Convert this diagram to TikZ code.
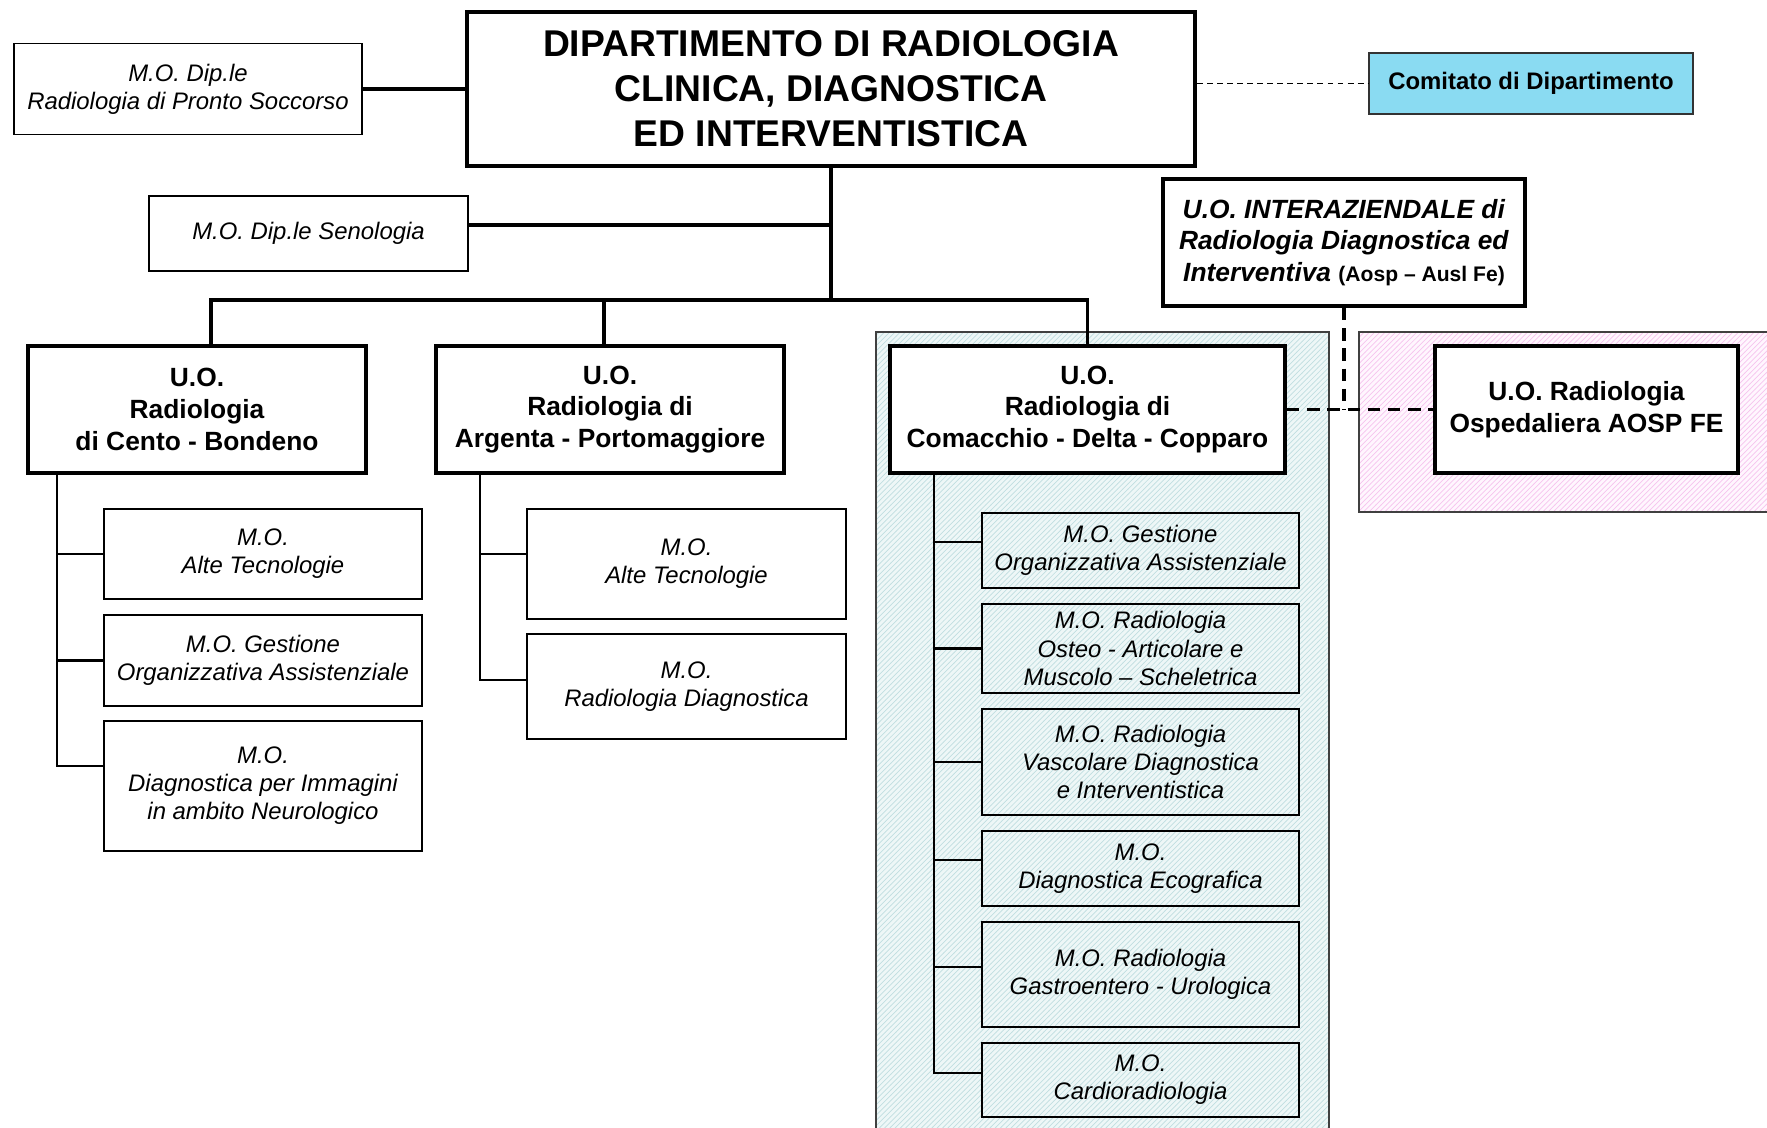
\documentclass[tikz,border=0pt]{standalone}
\usepackage{fontspec}
\setmainfont{Liberation Sans}
\usepackage{xcolor}
\usepackage{tikz}
\usetikzlibrary{patterns, backgrounds}

\definecolor{tealbg}{RGB}{238,247,247}
\definecolor{tealhatch}{RGB}{192,222,224}
\definecolor{pinkbg}{RGB}{255,246,254}
\definecolor{pinkhatch}{RGB}{246,196,238}
\definecolor{comitcol}{RGB}{138,219,242}

\newcommand{\mofont}{\fontsize{13.6}{16}\selectfont\itshape}
\newcommand{\uofont}{\fontsize{15}{18}\selectfont\bfseries}

\begin{document}
\begin{tikzpicture}[x=0.02cm, y=-0.02cm,
    deptbox/.style={draw, line width=2.7pt, fill=white, align=center, inner sep=0pt, font=\fontsize{21.2}{25.6}\selectfont\bfseries},
    uobox/.style={draw, line width=2.3pt, fill=white, align=center, inner sep=0pt, font=\uofont},
    mobox/.style={draw, line width=1.1pt, align=center, inner sep=0pt, font=\mofont},
    comitbox/.style={draw=black!80, line width=1pt, fill=comitcol, align=center, inner sep=0pt, font=\fontsize{13.6}{16}\selectfont\bfseries},
    trunkline/.style={line width=2pt},
    subline/.style={line width=1.2pt},
    dashline/.style={line width=2.2pt, dash pattern=on 7pt off 4.5pt},
    dotline/.style={line width=0.9pt, dash pattern=on 3.4pt off 2.3pt},
    region/.style={draw=black!75, line width=0.6pt}
]
\useasboundingbox (0,0) rectangle (1767,1127);

% top level
\node[deptbox, minimum width=14.56cm, minimum height=3.08cm] (dept) at (831,89) {DIPARTIMENTO DI RADIOLOGIA\\CLINICA, DIAGNOSTICA\\ED INTERVENTISTICA};
\node[mobox, minimum width=6.96cm, minimum height=1.82cm] (ps) at (188,89) {M.O. Dip.le\\Radiologia di Pronto Soccorso};
\node[mobox, minimum width=6.38cm, minimum height=1.5cm] (seno) at (308.5,233.5) {M.O. Dip.le Senologia};
\node[comitbox, minimum width=6.48cm, minimum height=1.22cm] (comit) at (1531,83.5) {Comitato di Dipartimento};
\node[uobox, minimum width=7.24cm, minimum height=2.54cm] (interaz) at (1344,242.5) {\textit{U.O. INTERAZIENDALE di}\\\textit{Radiologia Diagnostica ed}\\\textit{Interventiva} {\fontsize{12}{18}\selectfont(Aosp -- Ausl Fe)}};

% U.O.
\node[uobox, minimum width=6.76cm, minimum height=2.54cm] (cento) at (197,409.5) {U.O.\\Radiologia\\di Cento - Bondeno};
\node[uobox, minimum width=6.96cm, minimum height=2.54cm] (argenta) at (610,409.5) {U.O.\\Radiologia di\\Argenta - Portomaggiore};
\node[uobox, minimum width=7.9cm, minimum height=2.54cm] (comacchio) at (1087.5,409.5) {U.O.\\Radiologia di\\Comacchio - Delta - Copparo};
\node[uobox, minimum width=6.06cm, minimum height=2.54cm] (osped) at (1586.5,409.5) {U.O. Radiologia\\Ospedaliera AOSP FE};

% M.O. Cento
\node[mobox, minimum width=6.36cm, minimum height=1.8cm] (c1) at (263,554) {M.O.\\Alte Tecnologie};
\node[mobox, minimum width=6.36cm, minimum height=1.82cm] (c2) at (263,660.5) {M.O. Gestione\\Organizzativa Assistenziale};
\node[mobox, minimum width=6.36cm, minimum height=2.6cm] (c3) at (263,786) {M.O.\\Diagnostica per Immagini\\in ambito Neurologico};

% M.O. Argenta
\node[mobox, minimum width=6.38cm, minimum height=2.2cm] (a1) at (686.5,564) {M.O.\\Alte Tecnologie};
\node[mobox, minimum width=6.38cm, minimum height=2.1cm] (a2) at (686.5,686.5) {M.O.\\Radiologia Diagnostica};

% M.O. Comacchio
\node[mobox, minimum width=6.34cm, minimum height=1.5cm] (k1) at (1140.5,550.5) {M.O. Gestione\\Organizzativa Assistenziale};
\node[mobox, minimum width=6.34cm, minimum height=1.78cm] (k2) at (1140.5,648.5) {M.O. Radiologia\\Osteo - Articolare e\\Muscolo -- Scheletrica};
\node[mobox, minimum width=6.34cm, minimum height=2.12cm] (k3) at (1140.5,762) {M.O. Radiologia\\Vascolare Diagnostica\\e Interventistica};
\node[mobox, minimum width=6.34cm, minimum height=1.5cm] (k4) at (1140.5,868.5) {M.O.\\Diagnostica Ecografica};
\node[mobox, minimum width=6.34cm, minimum height=2.1cm] (k5) at (1140.5,974.5) {M.O. Radiologia\\Gastroentero - Urologica};
\node[mobox, minimum width=6.34cm, minimum height=1.48cm] (k6) at (1140.5,1080) {M.O.\\Cardioradiologia};

% tree
\coordinate (hub) at (831,300);
\coordinate (senojoin) at (831,225);
\draw[trunkline] (dept.south) -- (hub);
\draw[trunkline] ([xshift=0.28cm]cento.north) |- (hub) -| (comacchio.north);
\draw[trunkline] ([xshift=-0.12cm]argenta.north) |- (hub);
\draw[trunkline] (seno.east |- senojoin) -- (senojoin);
\draw[trunkline] (ps.east) -- (ps.east -| dept.west);
\draw[dotline] (dept.east |- comit) -- (comit.west);

\draw[subline] ([xshift=0.62cm]cento.south west) |- (c1.west);
\draw[subline] ([xshift=0.62cm]cento.south west) |- (c2.west);
\draw[subline] ([xshift=0.62cm]cento.south west) |- ([yshift=0.4cm]c3.west);

\draw[subline] ([xshift=0.92cm]argenta.south west) |- ([yshift=0.2cm]a1.west);
\draw[subline] ([xshift=0.92cm]argenta.south west) |- ([yshift=0.13cm]a2.west);

\draw[subline] ([xshift=0.92cm]comacchio.south west) |- ([yshift=0.17cm]k1.west);
\draw[subline] ([xshift=0.92cm]comacchio.south west) |- (k2.west);
\draw[subline] ([xshift=0.92cm]comacchio.south west) |- (k3.west);
\draw[subline] ([xshift=0.92cm]comacchio.south west) |- ([yshift=0.17cm]k4.west);
\draw[subline] ([xshift=0.92cm]comacchio.south west) |- ([yshift=0.15cm]k5.west);
\draw[subline] ([xshift=0.92cm]comacchio.south west) |- ([yshift=0.14cm]k6.west);

% links to the AOSP unit
\draw[dashline] (comacchio.east) -- (osped.west);
\draw[dashline] (interaz.south) -- (interaz.south |- osped.west);

\begin{pgfonlayer}{background}
\draw[region, preaction={fill=tealbg}, pattern=north east lines, pattern color=tealhatch] (876,332) rectangle (1329,1140);
\draw[region, preaction={fill=pinkbg}, pattern=north east lines, pattern color=pinkhatch] (1359,332) rectangle (1790,512);
\end{pgfonlayer}

\end{tikzpicture}
\end{document}
